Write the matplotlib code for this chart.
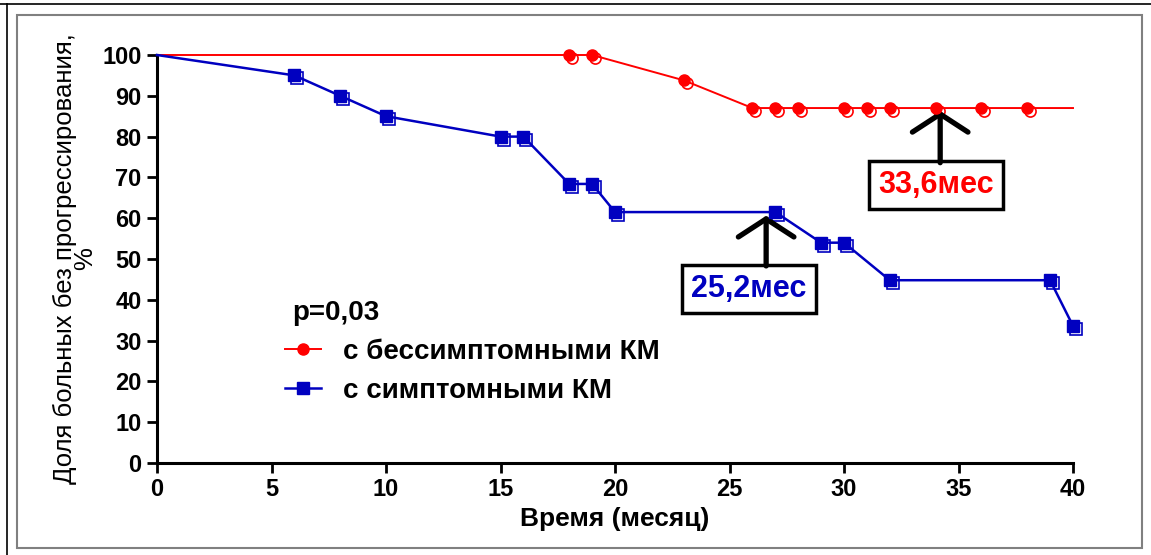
import matplotlib
matplotlib.use("Agg")
import matplotlib.pyplot as plt
import matplotlib.transforms as mtransforms
from matplotlib.lines import Line2D

# Данные кривых (время, %)
red_time = [0, 18, 19, 23, 26, 27, 28, 30, 31, 32, 34, 36, 38, 40]
red_val = [100, 100, 100, 93.8, 87, 87, 87, 87, 87, 87, 87, 87, 87, 87]
red_marks = [18, 19, 23, 26, 27, 28, 30, 31, 32, 34, 36, 38]

blue_time = [0, 6, 8, 10, 15, 16, 18, 19, 20, 27, 29, 30, 32, 39, 40]
blue_val = [100, 95, 90, 85, 80, 80, 68.4, 68.4, 61.5, 61.5, 54, 54, 44.8, 44.8, 33.6]

red_label = "с бессимптомными КМ"
blue_label = "с симптомными КМ"
x_ticks = [0, 5, 10, 15, 20, 25, 30, 35, 40]
y_ticks = [0, 10, 20, 30, 40, 50, 60, 70, 80, 90, 100]

RED = "#ff0000"
BLUE = "#0000c0"
FONT = ["Liberation Sans Narrow", "Liberation Sans", "DejaVu Sans"]
plt.rcParams["font.family"] = FONT

fig = plt.figure(figsize=(11.51, 5.55), dpi=100)
ax = fig.add_axes([157 / 1151, 1 - 463 / 555, (1073 - 157) / 1151, (463 - 55) / 555])

# смещённые пустые маркеры (цензурированные наблюдения)
shift = mtransforms.ScaledTranslation(3 / 100, -3 / 100, fig.dpi_scale_trans)

red_mv = [red_val[red_time.index(t)] for t in red_marks]
ax.plot(red_time, red_val, color=RED, lw=1.4, zorder=3, clip_on=False)
ax.plot(red_marks, red_mv, ls="none", marker="o", ms=8, mfc="none", mec=RED,
        mew=1.2, transform=ax.transData + shift, zorder=3, clip_on=False)
ax.plot(red_marks, red_mv, ls="none", marker="o", ms=8, color=RED, zorder=4,
        clip_on=False)

ax.plot(blue_time, blue_val, color=BLUE, lw=1.8, zorder=3, clip_on=False)
ax.plot(blue_time[1:], blue_val[1:], ls="none", marker="s", ms=8, mfc="none", mec=BLUE,
        mew=1.2, transform=ax.transData + shift, zorder=3, clip_on=False)
ax.plot(blue_time[1:], blue_val[1:], ls="none", marker="s", ms=8, color=BLUE,
        zorder=4, clip_on=False)

ax.set_xlim(0, 40)
ax.set_ylim(0, 100)
ax.set_xticks(x_ticks)
ax.set_yticks(y_ticks)
for s in ["top", "right"]:
    ax.spines[s].set_visible(False)
for s in ["left", "bottom"]:
    ax.spines[s].set_linewidth(2.2)
ax.tick_params(axis="both", width=2, length=7, direction="out", pad=4,
               labelsize=17)
for lab in ax.get_xticklabels() + ax.get_yticklabels():
    lab.set_fontweight("bold")

ax.set_xlabel("Время (месяц)", fontsize=19, fontweight="bold", labelpad=4)
ax.set_ylabel("Доля больных без прогрессирования,\n%", fontsize=18.5,
              linespacing=0.8, labelpad=4)

# легенда
h_red = Line2D([], [], color=RED, lw=1.4, marker="o", ms=8)
h_blue = Line2D([], [], color=BLUE, lw=1.8, marker="s", ms=8)
leg = ax.legend([h_red, h_blue], [red_label, blue_label], loc="upper left",
                bbox_to_anchor=(0.112, 0.365), frameon=False, handlelength=1.3,
                handletextpad=0.8, labelspacing=0.45,
                prop={"size": 20, "weight": "bold"})
ax.text(0.148, 0.368, "p=0,03", transform=ax.transAxes, fontsize=20,
        fontweight="bold", va="center", ha="left")

# медианы
box = dict(boxstyle="square,pad=0.3", fc="white", ec="black", lw=2.5)
arrow = dict(arrowstyle="->,head_length=1.3,head_width=2.0",
             color="black", lw=3.8, shrinkA=0, shrinkB=0)
ax.text(34.0, 68.2, "33,6мес", color=RED, fontsize=22, fontweight="bold",
        ha="center", va="center", bbox=box)
ax.annotate("", xy=(34.2, 86.3), xytext=(34.2, 73.6), arrowprops=arrow)
ax.text(25.85, 42.6, "25,2мес", color=BLUE, fontsize=22, fontweight="bold",
        ha="center", va="center", bbox=box)
ax.annotate("", xy=(26.6, 60.6), xytext=(26.6, 48.3), arrowprops=arrow)

# рамки рисунка
fig.add_artist(Line2D([0, 1], [1 - 4 / 555] * 2, color="black", lw=1.2,
                      transform=fig.transFigure))
fig.add_artist(Line2D([7 / 1151] * 2, [0, 1 - 4 / 555], color="black", lw=1.2,
                      transform=fig.transFigure))
fig.add_artist(plt.Rectangle((17 / 1151, 1 - 548 / 555), (1142 - 17) / 1151,
                             (548 - 15) / 555, fill=False, ec="#808080", lw=1.5,
                             transform=fig.transFigure))

fig.savefig("out.png", dpi=100)
